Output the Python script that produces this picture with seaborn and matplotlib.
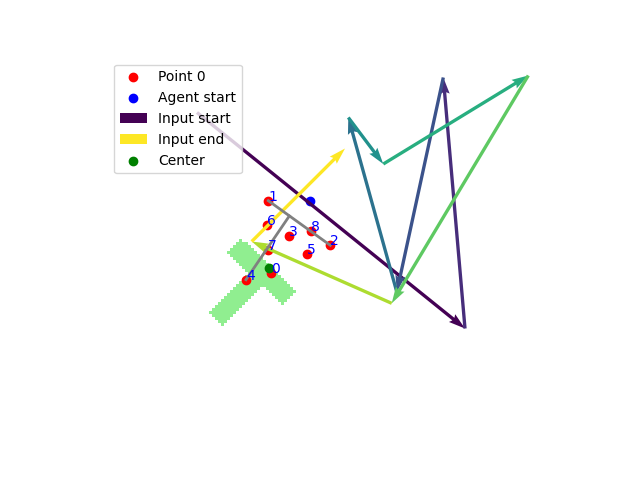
import numpy as np
import matplotlib
matplotlib.use("Agg")
import matplotlib.pyplot as plt
import seaborn as sns
from matplotlib.colors import to_rgba

# ---- data (in image pixel units) ----
point_x = [270.7, 268.3, 330.3, 289.0, 246.0, 306.7, 266.7, 267.7, 311.0]
point_y = [273.0, 200.7, 245.3, 236.3, 279.7, 254.0, 224.7, 249.7, 230.7]
point_labels = ["0", "1", "2", "3", "4", "5", "6", "7", "8"]

agent_x = [310.0]
agent_y = [201.3]

center_x = [269.0]
center_y = [268.0]

# successive input positions (arrows connect consecutive positions)
input_x = [197.0, 465.0, 443.3, 396.8, 348.3, 383.3, 528.3, 391.7, 251.7, 345.0]
input_y = [112.5, 328.5, 77.5, 292.0, 117.5, 164.0, 75.5, 303.3, 241.5, 148.5]

# gray axis segments
seg_x = [[268.3, 330.3], [289.3, 246.0]]
seg_y = [[200.7, 245.3], [216.0, 279.7]]

# mask bars: (x0, y0, x1, y1, half_width)
bar_a = [234.0, 245.0, 289.0, 298.5, 9.8]
bar_b = [216.0, 318.5, 261.5, 272.0, 9.6]
mask_extent = [200.0, 302.0, 332.0, 230.0]  # left, right, bottom, top
cell = 3.0

# ---- figure ----
fig = plt.figure(figsize=(6.4, 4.8), dpi=100)
ax = fig.add_axes([107 / 640, 0.11, 442 / 640, 0.77])

# rasterised mask
nx = int(round((mask_extent[1] - mask_extent[0]) / cell))
ny = int(round((mask_extent[2] - mask_extent[3]) / cell))
cx = mask_extent[0] + (np.arange(nx) + 0.5) * cell
cy = mask_extent[3] + (np.arange(ny) + 0.5) * cell
GX, GY = np.meshgrid(cx, cy)


def in_bar(b):
    x0, y0, x1, y1, hw = b
    d = np.array([x1 - x0, y1 - y0])
    L = np.hypot(*d)
    d = d / L
    px, py = GX - x0, GY - y0
    t = px * d[0] + py * d[1]
    n = -px * d[1] + py * d[0]
    return (t >= 0) & (t <= L) & (np.abs(n) <= hw)


mask = in_bar(bar_a) | in_bar(bar_b)
rgba = np.zeros((ny, nx, 4))
rgba[mask] = to_rgba("lightgreen")
ax.imshow(rgba, extent=mask_extent, interpolation="nearest", zorder=0)

# points
sns.scatterplot(x=point_x[:1], y=point_y[:1], color="red", s=36,
                edgecolor="face", linewidth=1, label="Point 0", ax=ax)
sns.scatterplot(x=point_x[1:], y=point_y[1:], color="red", s=36,
                edgecolor="face", linewidth=1, ax=ax)
sns.scatterplot(x=agent_x, y=agent_y, color="blue", s=36,
                edgecolor="face", linewidth=1, label="Agent start", ax=ax)

# arrows
n_arrows = len(input_x) - 1
cmap = plt.get_cmap("viridis")
for i in range(n_arrows):
    lab = None
    if i == 0:
        lab = "Input start"
    elif i == n_arrows - 1:
        lab = "Input end"
    ax.quiver([input_x[i]], [input_y[i]],
              [input_x[i + 1] - input_x[i]], [input_y[i + 1] - input_y[i]],
              angles="xy", scale_units="xy", scale=1,
              color=cmap(i / (n_arrows - 1)), label=lab)

sns.scatterplot(x=center_x, y=center_y, color="green", s=36,
                edgecolor="face", linewidth=1, label="Center", ax=ax)

for sx, sy in zip(seg_x, seg_y):
    ax.plot(sx, sy, color="gray", lw=2)

for x, y, t in zip(point_x, point_y, point_labels):
    ax.text(x, y, t, color="blue", fontsize=10)

ax.set_xlim(107, 549)
ax.set_ylim(427.2, 57.6)
ax.set_aspect("auto")
ax.axis("off")
ax.legend(loc="upper left")

fig.savefig("out.png", dpi=100)
